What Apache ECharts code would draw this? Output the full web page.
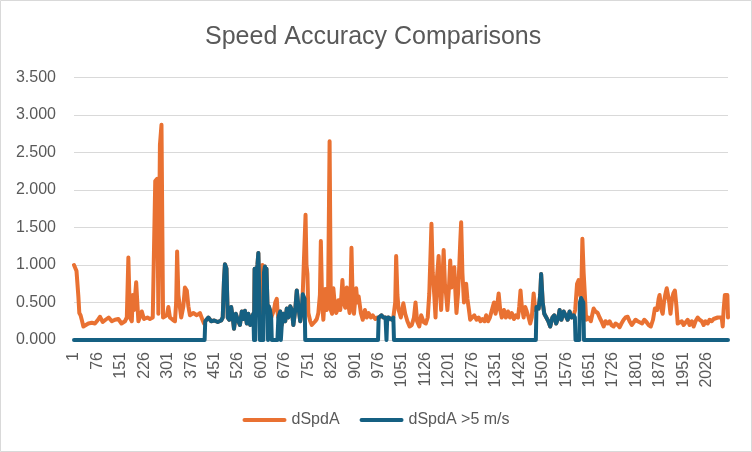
<!DOCTYPE html>
<html>
<head>
<meta charset="utf-8">
<script src="https://cdn.jsdelivr.net/npm/echarts@6/dist/echarts.min.js"></script>
<style>
html,body{margin:0;padding:0;background:#fff;}
#chart{width:752px;height:452px;}
</style>
</head>
<body>
<div id="chart"></div>
<script>
// Series values as [sample index, value]
const dSpdA = [[1,1.0],[9,0.92],[15,0.58],[18,0.36],[22,0.33],[27,0.25],[31,0.18],[36,0.2],[47,0.22],[58,0.23],[68,0.22],[76,0.26],[84,0.31],[93,0.24],[102,0.27],[112,0.3],[122,0.25],[132,0.27],[143,0.28],[153,0.22],[164,0.25],[170,0.3],[175,1.1],[180,0.3],[186,0.25],[189,0.6],[193,0.4],[200,0.77],[207,0.25],[218,0.38],[225,0.28],[236,0.3],[244,0.28],[253,0.3],[258,0.3],[261,2.12],[267,2.15],[271,0.35],[276,2.6],[281,2.87],[286,0.3],[292,0.28],[298,0.33],[303,0.44],[308,0.3],[317,0.27],[324,0.25],[328,0.5],[331,1.18],[335,0.6],[344,0.3],[351,0.45],[356,0.7],[362,0.66],[367,0.45],[372,0.33],[383,0.36],[394,0.33],[404,0.36],[412,0.27],[417,0.22],[421,0.25],[431,0.3],[440,0.25],[450,0.26],[461,0.24],[472,0.26],[477,0.3],[481,0.8],[484,1.01],[489,0.95],[493,0.3],[498,0.27],[504,0.44],[509,0.3],[513,0.15],[519,0.35],[525,0.27],[532,0.2],[538,0.38],[543,0.28],[548,0.39],[554,0.22],[559,0.35],[565,0.2],[570,0.3],[575,0.35],[577,0.3],[579,0.95],[581,0.3],[584,0.85],[588,1.0],[591,1.16],[594,0.6],[596,0.3],[600,0.28],[602,0.6],[604,1.0],[606,0.4],[609,0.9],[612,0.98],[615,0.6],[617,0.95],[620,0.5],[622,0.35],[624,0.45],[628,0.4],[632,0.3],[636,0.3],[641,0.4],[645,0.5],[650,0.55],[653,0.35],[655,0.3],[661,0.38],[663,0.3],[666,0.2],[671,0.35],[677,0.25],[682,0.42],[687,0.3],[693,0.45],[698,0.4],[703,0.2],[709,0.4],[714,0.66],[719,0.45],[725,0.25],[730,0.4],[733,0.61],[738,0.6],[742,1.67],[745,1.0],[748,0.88],[751,0.36],[757,0.25],[762,0.2],[767,0.18],[773,0.25],[778,0.28],[783,0.36],[788,0.6],[791,1.32],[795,0.5],[799,0.27],[805,0.68],[810,0.4],[814,0.5],[819,2.65],[823,0.4],[827,0.35],[831,0.69],[836,0.45],[840,0.36],[844,0.4],[847,0.53],[853,0.4],[857,0.6],[860,0.8],[864,0.5],[869,0.43],[874,0.7],[878,0.5],[883,0.36],[886,0.6],[889,1.23],[893,0.5],[897,0.35],[904,0.69],[908,0.5],[912,0.58],[919,0.36],[925,0.27],[932,0.4],[938,0.3],[944,0.36],[951,0.3],[957,0.33],[965,0.28],[972,0.3],[976,0.3],[979,0.3],[985,0.33],[991,0.3],[998,0.3],[1001,0.22],[1003,0.25],[1007,0.3],[1013,0.3],[1019,0.27],[1023,0.3],[1029,0.5],[1032,1.12],[1036,0.6],[1040,0.4],[1047,0.3],[1055,0.49],[1061,0.35],[1068,0.25],[1075,0.18],[1082,0.2],[1089,0.3],[1094,0.5],[1099,0.25],[1106,0.18],[1112,0.33],[1120,0.24],[1127,0.22],[1133,0.3],[1138,0.62],[1145,1.55],[1149,0.9],[1154,0.6],[1158,0.3],[1162,0.8],[1168,1.12],[1172,0.65],[1176,0.4],[1180,0.8],[1184,1.2],[1188,0.75],[1192,0.6],[1196,0.4],[1201,0.7],[1205,1.06],[1209,0.7],[1213,0.85],[1218,0.97],[1222,0.6],[1225,0.36],[1230,0.62],[1234,0.99],[1237,1.3],[1240,1.57],[1244,0.9],[1249,0.5],[1253,0.6],[1256,0.75],[1260,0.55],[1265,0.4],[1269,0.27],[1274,0.25],[1282,0.33],[1289,0.27],[1296,0.3],[1302,0.25],[1308,0.28],[1315,0.25],[1320,0.33],[1326,0.25],[1332,0.3],[1338,0.28],[1345,0.5],[1350,0.35],[1355,0.45],[1360,0.62],[1365,0.4],[1370,0.3],[1377,0.4],[1383,0.3],[1390,0.38],[1396,0.3],[1402,0.36],[1409,0.28],[1415,0.33],[1422,0.3],[1426,0.45],[1430,0.66],[1434,0.45],[1440,0.3],[1445,0.44],[1450,0.38],[1456,0.3],[1461,0.22],[1466,0.3],[1472,0.62],[1477,0.4],[1481,0.44],[1488,0.42],[1493,0.6],[1496,0.88],[1501,0.5],[1506,0.35],[1512,0.33],[1519,0.25],[1525,0.18],[1532,0.3],[1538,0.33],[1544,0.22],[1551,0.3],[1555,0.4],[1561,0.27],[1568,0.38],[1574,0.36],[1581,0.27],[1587,0.38],[1593,0.3],[1600,0.33],[1605,0.4],[1611,0.75],[1616,0.8],[1621,0.6],[1624,0.56],[1628,1.35],[1632,0.9],[1636,0.6],[1640,0.27],[1648,0.3],[1655,0.25],[1664,0.42],[1670,0.38],[1677,0.36],[1683,0.3],[1689,0.25],[1696,0.18],[1702,0.25],[1709,0.22],[1715,0.25],[1721,0.2],[1728,0.18],[1734,0.22],[1741,0.2],[1747,0.17],[1753,0.22],[1760,0.27],[1766,0.3],[1773,0.31],[1779,0.25],[1786,0.2],[1792,0.22],[1798,0.27],[1805,0.25],[1811,0.24],[1819,0.22],[1826,0.27],[1833,0.24],[1840,0.2],[1847,0.18],[1854,0.27],[1860,0.42],[1867,0.4],[1872,0.55],[1875,0.6],[1881,0.4],[1885,0.35],[1889,0.5],[1893,0.6],[1898,0.69],[1902,0.6],[1906,0.5],[1910,0.35],[1915,0.55],[1919,0.62],[1924,0.66],[1929,0.45],[1933,0.22],[1939,0.2],[1946,0.25],[1952,0.2],[1958,0.22],[1965,0.27],[1971,0.2],[1978,0.25],[1984,0.18],[1990,0.25],[1997,0.3],[2003,0.27],[2010,0.25],[2016,0.2],[2022,0.25],[2029,0.22],[2035,0.27],[2042,0.25],[2048,0.28],[2054,0.26],[2061,0.3],[2067,0.28],[2074,0.3],[2077,0.18],[2080,0.4],[2084,0.6],[2089,0.62],[2092,0.6],[2094,0.3]];

const dSpdAFast = [[1,0],[419,0],[421,0.25],[431,0.3],[440,0.25],[450,0.26],[461,0.24],[472,0.26],[477,0.3],[481,0.8],[484,1.01],[489,0.95],[493,0.3],[498,0.27],[504,0.44],[509,0.3],[513,0.15],[519,0.35],[525,0.27],[532,0.2],[538,0.38],[543,0.28],[548,0.39],[554,0.22],[559,0.35],[565,0.2],[570,0.3],[575,0.35],[577,0],[579,0.95],[581,0],[584,0.85],[588,1.0],[591,1.16],[594,0.6],[596,0],[607,0],[609,0.9],[612,0.98],[615,0.6],[617,0.95],[620,0.5],[622,0],[624,0.45],[628,0.4],[632,0.3],[634,0],[652,0],[655,0.3],[661,0.38],[663,0],[666,0.2],[671,0.35],[677,0.25],[682,0.42],[687,0.3],[693,0.45],[698,0.4],[703,0.2],[709,0.4],[714,0.66],[719,0.45],[725,0.25],[730,0.4],[733,0.61],[739,0.55],[741,0],[974,0],[976,0.3],[979,0.3],[985,0.33],[991,0.3],[998,0.3],[1001,0],[1003,0.25],[1007,0.3],[1013,0.3],[1019,0.27],[1023,0.3],[1025,0],[1479,0],[1481,0.44],[1488,0.42],[1493,0.6],[1496,0.88],[1501,0.5],[1506,0.35],[1512,0.33],[1519,0.25],[1525,0.18],[1532,0.3],[1538,0.33],[1544,0.22],[1551,0.3],[1555,0.4],[1561,0.27],[1568,0.38],[1574,0.36],[1581,0.27],[1587,0.38],[1593,0.3],[1600,0.33],[1604,0.3],[1606,0],[1618,0],[1620,0.5],[1624,0.56],[1631,0.5],[1633,0],[2094,0]];

const seriesNames = ['dSpdA', 'dSpdA >5 m/s'];
const xFirst = 1, xLast = 2094, xStep = 75;
const yMax = 3.5, yStep = 0.5;

const chart = echarts.init(document.getElementById('chart'), null, {renderer: 'canvas'});
const txt = '#595959';
const font = 'Liberation Sans, Arial, sans-serif';
const capsule = 'path://M2,0 H42 A2,2 0 0 1 42,4 H2 A2,2 0 0 1 2,0 Z';
chart.setOption({
  animation: false,
  backgroundColor: '#ffffff',
  title: {
    text: 'Speed Accuracy Comparisons',
    left: 200, top: 20,
    textStyle: {color: txt, fontSize: 25, fontWeight: 'normal', fontFamily: font}
  },
  legend: {
    bottom: 19, left: 'center',
    itemWidth: 44, itemHeight: 5, itemGap: 20,
    textStyle: {color: txt, fontSize: 16, fontFamily: font},
    data: [{name: seriesNames[0], icon: capsule}, {name: seriesNames[1], icon: capsule}]
  },
  grid: {left: 74, right: 24, top: 77.5, bottom: 112, containLabel: false},
  xAxis: {
    type: 'value', min: xFirst, max: xLast, interval: xStep,
    axisLine: {show: true, lineStyle: {color: '#d9d9d9', width: 1}},
    axisTick: {show: false},
    splitLine: {show: false},
    axisLabel: {rotate: 90, margin: 12, color: txt, fontSize: 16, fontFamily: font,
      showMaxLabel: false, formatter: v => String(v)}
  },
  yAxis: {
    type: 'value', min: 0, max: yMax, interval: yStep,
    axisLine: {show: false}, axisTick: {show: false},
    splitLine: {lineStyle: {color: '#d9d9d9', width: 1}},
    axisLabel: {margin: 18, color: txt, fontSize: 16, fontFamily: font, formatter: v => v.toFixed(3)}
  },
  series: [
    {name: seriesNames[0], type: 'line', data: dSpdA, showSymbol: false, symbol: 'none',
      lineStyle: {color: '#E97132', width: 4, cap: 'round', join: 'round'}, itemStyle: {color: '#E97132'}},
    {name: seriesNames[1], type: 'line', data: dSpdAFast, showSymbol: false, symbol: 'none',
      lineStyle: {color: '#156082', width: 4, cap: 'round', join: 'round'}, itemStyle: {color: '#156082'}}
  ],
  graphic: [{type: 'rect', shape: {x: 0.5, y: 0.5, width: 751, height: 451},
    style: {fill: 'none', stroke: '#d9d9d9', lineWidth: 1}, silent: true, z: -1}]
});
</script>
</body>
</html>
